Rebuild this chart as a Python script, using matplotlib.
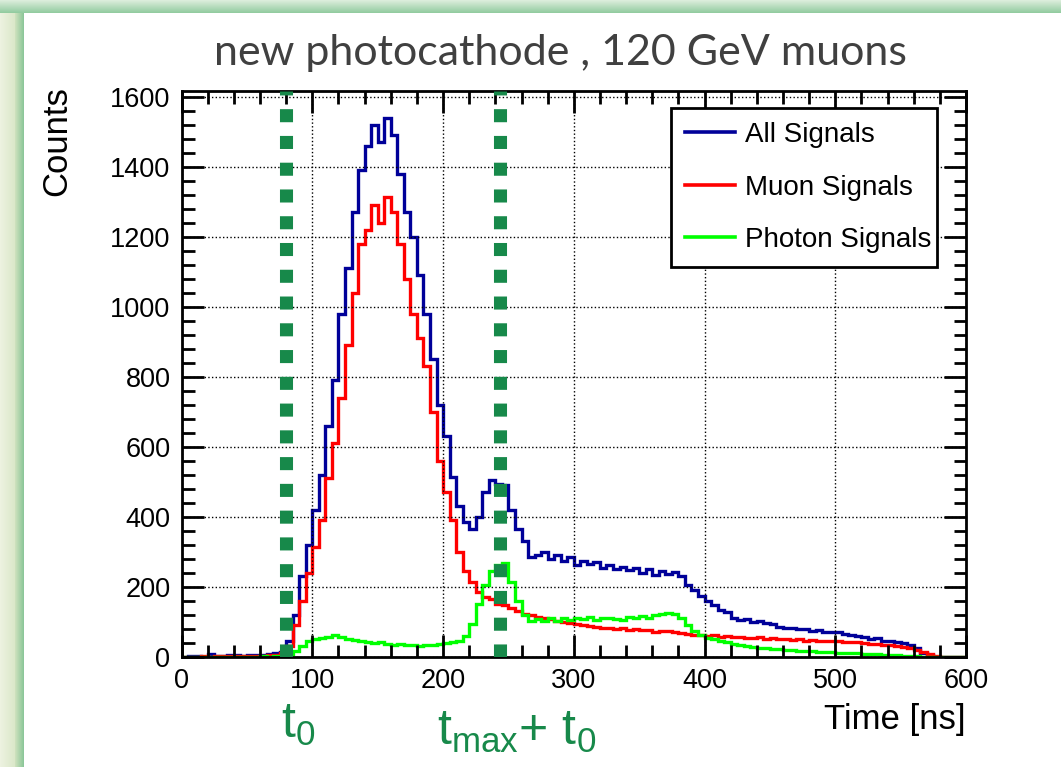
import matplotlib
matplotlib.use("Agg")
import matplotlib.pyplot as plt
import numpy as np
from matplotlib.lines import Line2D
from matplotlib.ticker import MultipleLocator

plt.rcParams.update({
    "font.family": "Liberation Sans",
    "axes.linewidth": 2.0,
})

# 5 ns bins from 0 to 600 ns
bin_edges = np.arange(0, 605, 5)

all_signals = [
    0, 2, 3, 1, 9, 4, 3, 5, 6, 4, 7, 5, 6, 8, 10, 15,
    45, 120, 230, 320, 420, 520, 660, 790, 980, 1110, 1270, 1390,
    1460, 1520, 1470, 1540, 1490, 1380, 1270, 1200, 1090, 980, 850, 720,
    630, 515, 430, 385, 365, 400, 470, 505, 495, 490,
    420, 365, 330, 285, 290, 300, 280, 290, 275, 285,
    262, 275, 265, 270, 255, 262, 250, 258, 248, 255,
    240, 250, 235, 245, 238, 242, 230, 205, 190, 175,
    160, 148, 135, 128, 112, 105, 108, 100, 102, 96,
    94, 85, 82, 84, 79, 80, 75, 77, 72, 70,
    72, 66, 62, 60, 57, 52, 53, 47, 46, 42,
    40, 35, 25, 12, 5, 0, 0, 0, 0, 0,
]

muon_signals = [
    0, 0, 1, 2, 1, 3, 2, 3, 2, 4, 3, 4, 3, 5, 6, 10,
    30, 90, 160, 240, 315, 390, 510, 610, 740, 890, 1040, 1180,
    1220, 1290, 1240, 1315, 1270, 1180, 1080, 980, 910, 830, 700, 560,
    470, 390, 300, 245, 215, 185, 170, 165, 152, 148,
    140, 132, 124, 120, 115, 112, 108, 104, 100, 98,
    95, 92, 88, 86, 82, 84, 80, 82, 78, 80,
    76, 78, 72, 75, 74, 70, 68, 66, 64, 62,
    60, 62, 58, 59, 56, 57, 55, 54, 56, 52,
    53, 50, 51, 49, 50, 47, 48, 46, 47, 45,
    46, 44, 42, 43, 40, 38, 37, 35, 33, 30,
    28, 25, 20, 14, 8, 3, 0, 0, 0, 0,
]

photon_signals = [
    0, 0, 0, 1, 0, 1, 0, 1, 1, 0, 1, 1, 2, 1, 2, 3,
    8, 18, 30, 45, 50, 55, 58, 62, 58, 52, 48, 45,
    42, 40, 42, 38, 35, 36, 33, 35, 32, 34, 33, 38,
    40, 42, 45, 60, 95, 150, 205, 245, 262, 268,
    215, 160, 120, 104, 108, 102, 110, 104, 112, 106,
    112, 108, 115, 106, 110, 112, 108, 106, 114, 110,
    118, 112, 120, 124, 126, 122, 110, 92, 75, 62,
    55, 50, 46, 42, 38, 34, 32, 29, 27, 25,
    24, 22, 21, 19, 18, 18, 16, 15, 14, 13,
    12, 11, 11, 10, 9, 9, 8, 7, 6, 5,
    4, 3, 2, 1, 0, 0, 0, 0, 0, 0,
]

series_labels = ["All Signals", "Muon Signals", "Photon Signals"]
series_colors = ["#000099", "#ff0000", "#00ff00"]

t0 = 79.5
tmax_t0 = 243.5
marker_green = "#17894a"

W, H = 1061, 767
fig = plt.figure(figsize=(W / 100, H / 100), dpi=100)

# slide-like frame: green gradient bands on top and left, white panel
bg = np.ones((H, W, 3))
top_rows = 13
for r in range(top_rows):
    f = r / (top_rows - 1)
    bg[r, :] = (1 - f) * np.array([0.86, 0.93, 0.86]) + f * np.array([0.58, 0.80, 0.63])
left_cols = 24
for c in range(left_cols):
    if c < 15:
        f = c / 14
        col = (1 - f) * np.array([0.93, 0.95, 0.88]) + f * np.array([0.86, 0.91, 0.79])
    else:
        f = (c - 15) / 8
        col = (1 - f) * np.array([0.80, 0.88, 0.74]) + f * np.array([0.55, 0.78, 0.60])
    bg[top_rows:, c] = col
fig.figimage(bg, xo=0, yo=0, origin="upper", zorder=-10)

ax = fig.add_axes([181.6 / W, 1 - 657 / H, (966 - 181.6) / W, (657 - 91) / H])
ax.set_zorder(5)

for vals, lab, col in zip([all_signals, muon_signals, photon_signals],
                          series_labels, series_colors):
    ax.stairs(vals, bin_edges, color=col, lw=2.4, baseline=None)

for xv in (t0, tmax_t0):
    ax.axvline(xv, color=marker_green, lw=9.4, ls=(0, (1, 1.05)),
               dash_capstyle="butt", zorder=5)

ax.set_xlim(0, 600)
ax.set_ylim(0, 1617)
ax.xaxis.set_major_locator(MultipleLocator(100))
ax.xaxis.set_minor_locator(MultipleLocator(20))
ax.yaxis.set_major_locator(MultipleLocator(200))
ax.yaxis.set_minor_locator(MultipleLocator(40))
ax.tick_params(which="both", direction="in", top=True, right=True,
               width=2, labelsize=19.5, pad=8)
ax.tick_params(which="major", length=16)
ax.tick_params(which="minor", length=9)
ax.grid(True, which="major", ls=":", color="black", lw=1)

ax.set_xlabel("Time [ns]", loc="right", fontsize=25)
ax.xaxis.set_label_coords(1.0, -0.082)
ax.set_ylabel("Counts", loc="top", fontsize=25)
ax.yaxis.set_label_coords(-0.138, 1.008)

handles = [Line2D([], [], color=c, lw=2.6) for c in series_colors]
leg = ax.legend(handles, series_labels, loc="upper left",
                bbox_to_anchor=(0.624, 0.687, 0.339, 0.283), mode="expand",
                borderaxespad=0, fontsize=20, fancybox=False,
                edgecolor="black", framealpha=1, handlelength=1.8,
                handletextpad=0.36, labelspacing=0.96, borderpad=0.5)
leg.get_frame().set_linewidth(2)

fig.text(560 / W, 1 - 53 / H, "new photocathode , 120 GeV muons",
         ha="center", va="center", fontsize=31, family="Lato", color="#404040")

fig.text(281 / W, 1 - 738 / H, r"$\mathregular{t_0}$", fontsize=36,
         color=marker_green, ha="left", va="baseline")
fig.text(437 / W, 1 - 745 / H, r"$\mathregular{t_{max}}$+ $\mathregular{t_0}$",
         fontsize=36, color=marker_green, ha="left", va="baseline")

fig.savefig("out.png", dpi=100)
